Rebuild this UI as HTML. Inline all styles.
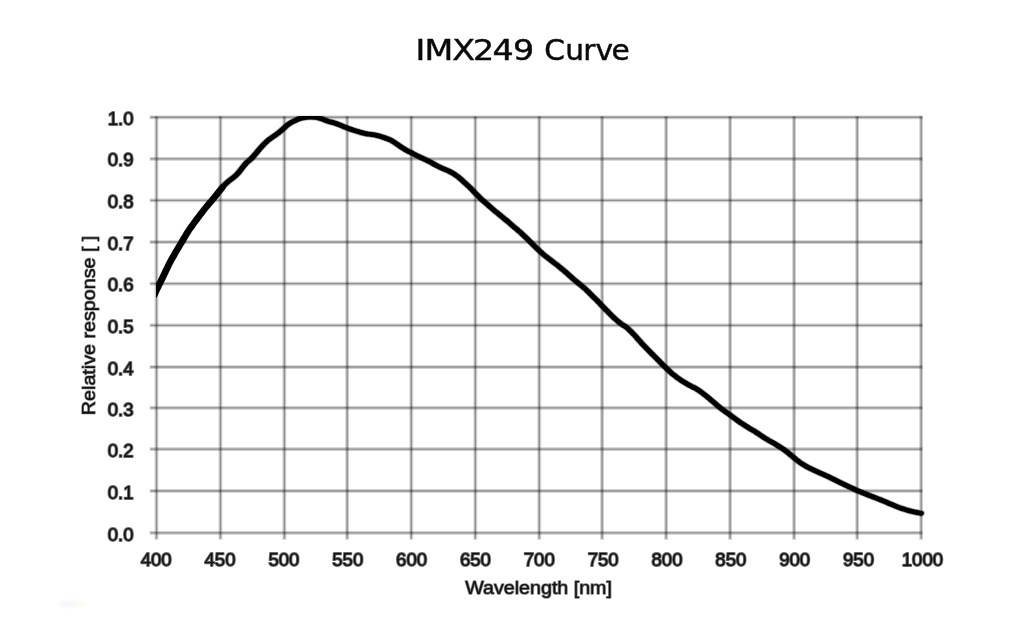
<!DOCTYPE html>
<html lang="en">
<head>
<meta charset="utf-8">
<title>IMX249 Curve</title>
<style>
html,body{margin:0;padding:0;background:#fff;}
body{width:1024px;height:638px;overflow:hidden;position:relative;}
svg{display:block;position:absolute;left:0;top:0;}
.title{font-family:"DejaVu Sans","Liberation Sans",sans-serif;font-size:28.5px;fill:#0a0a0a;stroke:#0a0a0a;stroke-width:0.45px;}
.tick{font-family:"Liberation Sans",sans-serif;font-size:18.60px;fill:#111111;stroke:#111111;stroke-width:1.90px;stroke-opacity:0.62;paint-order:stroke;stroke-linejoin:round;}
.axt{font-family:"Liberation Sans",sans-serif;font-size:18.4px;fill:#111111;stroke:#111111;stroke-width:1.50px;stroke-opacity:0.55;paint-order:stroke;stroke-linejoin:round;}
</style>
</head>
<body>
<svg width="1024" height="638" viewBox="0 0 1024 638">
<defs>
<filter id="smudge" x="-50%" y="-50%" width="200%" height="200%"><feGaussianBlur stdDeviation="2"/></filter>
</defs>
<rect x="0" y="0" width="1024" height="638" fill="#ffffff"/>
<text class="title" transform="scale(1.170 1)" x="355.05 362.79 386.47 404.36 420.91 438.37" y="59.8">IMX249</text>
<text class="title" transform="scale(1.040 1)" x="523.32 543.45 560.76 572.53 587.96" y="59.8">Curve</text>
<g stroke="#000" stroke-opacity="0.190" stroke-width="3.80" fill="none" stroke-linecap="butt">
<line x1="149.70" y1="117.30" x2="922.60" y2="117.30"/>
<line x1="149.70" y1="158.90" x2="922.60" y2="158.90"/>
<line x1="149.70" y1="200.40" x2="922.60" y2="200.40"/>
<line x1="149.70" y1="242.05" x2="922.60" y2="242.05"/>
<line x1="149.70" y1="283.65" x2="922.60" y2="283.65"/>
<line x1="149.70" y1="325.40" x2="922.60" y2="325.40"/>
<line x1="149.70" y1="367.05" x2="922.60" y2="367.05"/>
<line x1="149.70" y1="407.85" x2="922.60" y2="407.85"/>
<line x1="149.70" y1="449.10" x2="922.60" y2="449.10"/>
<line x1="149.70" y1="490.95" x2="922.60" y2="490.95"/>
<line x1="149.70" y1="532.85" x2="922.60" y2="532.85"/>
<line x1="156.50" y1="115.90" x2="156.50" y2="539.65"/>
<line x1="220.45" y1="115.90" x2="220.45" y2="539.65"/>
<line x1="284.40" y1="115.90" x2="284.40" y2="539.65"/>
<line x1="347.20" y1="115.90" x2="347.20" y2="539.65"/>
<line x1="411.30" y1="115.90" x2="411.30" y2="539.65"/>
<line x1="475.35" y1="115.90" x2="475.35" y2="539.65"/>
<line x1="539.25" y1="115.90" x2="539.25" y2="539.65"/>
<line x1="602.10" y1="115.90" x2="602.10" y2="539.65"/>
<line x1="666.15" y1="115.90" x2="666.15" y2="539.65"/>
<line x1="730.10" y1="115.90" x2="730.10" y2="539.65"/>
<line x1="794.10" y1="115.90" x2="794.10" y2="539.65"/>
<line x1="857.20" y1="115.90" x2="857.20" y2="539.65"/>
<line x1="921.15" y1="115.90" x2="921.15" y2="539.65"/>
</g>
<g stroke="#000" stroke-opacity="0.300" stroke-width="1.40" fill="none" stroke-linecap="butt">
<line x1="150.50" y1="117.30" x2="921.80" y2="117.30"/>
<line x1="150.50" y1="158.90" x2="921.80" y2="158.90"/>
<line x1="150.50" y1="200.40" x2="921.80" y2="200.40"/>
<line x1="150.50" y1="242.05" x2="921.80" y2="242.05"/>
<line x1="150.50" y1="283.65" x2="921.80" y2="283.65"/>
<line x1="150.50" y1="325.40" x2="921.80" y2="325.40"/>
<line x1="150.50" y1="367.05" x2="921.80" y2="367.05"/>
<line x1="150.50" y1="407.85" x2="921.80" y2="407.85"/>
<line x1="150.50" y1="449.10" x2="921.80" y2="449.10"/>
<line x1="150.50" y1="490.95" x2="921.80" y2="490.95"/>
<line x1="150.50" y1="532.85" x2="921.80" y2="532.85"/>
<line x1="156.50" y1="116.70" x2="156.50" y2="538.85"/>
<line x1="220.45" y1="116.70" x2="220.45" y2="538.85"/>
<line x1="284.40" y1="116.70" x2="284.40" y2="538.85"/>
<line x1="347.20" y1="116.70" x2="347.20" y2="538.85"/>
<line x1="411.30" y1="116.70" x2="411.30" y2="538.85"/>
<line x1="475.35" y1="116.70" x2="475.35" y2="538.85"/>
<line x1="539.25" y1="116.70" x2="539.25" y2="538.85"/>
<line x1="602.10" y1="116.70" x2="602.10" y2="538.85"/>
<line x1="666.15" y1="116.70" x2="666.15" y2="538.85"/>
<line x1="730.10" y1="116.70" x2="730.10" y2="538.85"/>
<line x1="794.10" y1="116.70" x2="794.10" y2="538.85"/>
<line x1="857.20" y1="116.70" x2="857.20" y2="538.85"/>
<line x1="921.15" y1="116.70" x2="921.15" y2="538.85"/>
</g>
<clipPath id="plotclip"><rect x="155.9" y="116.1" width="780" height="430"/></clipPath>
<g clip-path="url(#plotclip)" fill="none" stroke="#000" stroke-linecap="round" stroke-linejoin="round">
<path transform="scale(1.100 1)" d="M140.2 295.0C140.5 294.3 141.4 292.1 142.0 290.7C142.6 289.3 143.2 288.0 143.8 286.6C144.4 285.2 145.0 283.9 145.6 282.5C146.2 281.1 146.9 279.8 147.5 278.4C148.1 277.0 148.7 275.6 149.3 274.2C149.9 272.8 150.5 271.4 151.1 270.0C151.7 268.6 152.3 267.2 152.9 265.9C153.5 264.6 154.1 263.2 154.7 262.0C155.4 260.7 156.0 259.4 156.6 258.2C157.2 257.0 157.8 255.8 158.4 254.7C159.0 253.5 159.6 252.4 160.2 251.3C160.8 250.2 161.4 249.1 162.0 248.0C162.6 246.8 163.2 245.7 163.8 244.6C164.5 243.5 165.1 242.3 165.7 241.2C166.3 240.1 166.9 238.9 167.5 237.8C168.1 236.7 168.7 235.5 169.3 234.5C169.9 233.4 170.5 232.3 171.1 231.3C171.7 230.2 172.3 229.3 172.9 228.3C173.6 227.3 174.2 226.4 174.8 225.5C175.4 224.5 176.0 223.6 176.6 222.7C177.2 221.8 177.8 220.9 178.4 220.0C179.0 219.1 179.6 218.3 180.2 217.4C180.8 216.5 181.4 215.6 182.0 214.7C182.7 213.8 183.3 212.9 183.9 212.0C184.5 211.2 185.1 210.3 185.7 209.5C186.3 208.6 186.9 207.8 187.5 207.0C188.1 206.2 188.7 205.4 189.3 204.6C189.9 203.8 190.5 203.0 191.2 202.2C191.8 201.4 192.4 200.7 193.0 199.9C193.6 199.1 194.2 198.3 194.8 197.5C195.4 196.7 196.0 195.9 196.6 195.1C197.2 194.2 197.8 193.4 198.4 192.5C199.0 191.7 199.6 190.8 200.3 190.0C200.9 189.1 201.5 188.3 202.1 187.5C202.7 186.7 203.3 185.9 203.9 185.2C204.5 184.5 205.1 183.8 205.7 183.2C206.3 182.6 206.9 182.0 207.5 181.4C208.1 180.9 208.7 180.4 209.4 179.8C210.0 179.3 210.6 178.8 211.2 178.3C211.8 177.8 212.4 177.3 213.0 176.8C213.6 176.2 214.2 175.6 214.8 175.0C215.4 174.3 216.0 173.6 216.6 172.9C217.2 172.1 217.8 171.2 218.5 170.4C219.1 169.5 219.7 168.6 220.3 167.7C220.9 166.9 221.5 166.0 222.1 165.2C222.7 164.4 223.3 163.7 223.9 163.0C224.5 162.3 225.1 161.8 225.7 161.2C226.3 160.6 227.0 160.1 227.6 159.4C228.2 158.8 228.8 158.2 229.4 157.5C230.0 156.8 230.6 156.0 231.2 155.2C231.8 154.5 232.4 153.7 233.0 152.9C233.6 152.1 234.2 151.3 234.8 150.5C235.4 149.7 236.1 148.9 236.7 148.1C237.3 147.4 237.9 146.6 238.5 145.9C239.1 145.2 239.7 144.5 240.3 143.8C240.9 143.2 241.5 142.5 242.1 141.9C242.7 141.3 243.3 140.7 243.9 140.2C244.5 139.6 245.2 139.1 245.8 138.6C246.4 138.1 247.0 137.7 247.6 137.2C248.2 136.7 248.8 136.3 249.4 135.8C250.0 135.4 250.6 134.9 251.2 134.4C251.8 133.9 252.4 133.4 253.0 132.9C253.6 132.4 254.3 131.9 254.9 131.3C255.5 130.7 256.1 130.1 256.7 129.5C257.3 128.9 257.9 128.3 258.5 127.7C259.1 127.1 259.7 126.5 260.3 125.9C260.9 125.4 261.5 124.8 262.1 124.3C262.7 123.9 263.4 123.4 264.0 123.0C264.6 122.6 265.2 122.3 265.8 121.9C266.4 121.6 267.0 121.2 267.6 120.9C268.2 120.6 268.8 120.3 269.4 120.0C270.0 119.7 270.6 119.4 271.2 119.1C271.9 118.9 272.5 118.6 273.1 118.4C273.7 118.2 274.3 118.0 274.9 117.9C275.5 117.7 276.1 117.6 276.7 117.5C277.3 117.4 277.9 117.3 278.5 117.2C279.1 117.2 279.7 117.2 280.3 117.1C281.0 117.1 281.6 117.1 282.2 117.1C282.8 117.1 283.4 117.1 284.0 117.1C284.6 117.1 285.2 117.1 285.8 117.2C286.4 117.2 287.0 117.3 287.6 117.4C288.2 117.5 288.8 117.6 289.4 117.8C290.1 118.0 290.7 118.2 291.3 118.4C291.9 118.6 292.5 118.9 293.1 119.1C293.7 119.4 294.3 119.7 294.9 119.9C295.5 120.2 296.1 120.5 296.7 120.7C297.3 120.9 297.9 121.2 298.5 121.4C299.2 121.6 299.8 121.8 300.4 121.9C301.0 122.1 301.6 122.3 302.2 122.4C302.8 122.6 303.4 122.8 304.0 123.0C304.6 123.2 305.2 123.4 305.8 123.6C306.4 123.9 307.0 124.1 307.7 124.4C308.3 124.7 308.9 125.0 309.5 125.2C310.1 125.5 310.7 125.8 311.3 126.1C311.9 126.3 312.5 126.6 313.1 126.9C313.7 127.2 314.3 127.4 314.9 127.7C315.5 127.9 316.1 128.2 316.8 128.4C317.4 128.7 318.0 128.9 318.6 129.1C319.2 129.4 319.8 129.6 320.4 129.8C321.0 130.1 321.6 130.3 322.2 130.5C322.8 130.7 323.4 130.9 324.0 131.1C324.6 131.4 325.2 131.5 325.9 131.7C326.5 131.9 327.1 132.1 327.7 132.3C328.3 132.5 328.9 132.6 329.5 132.8C330.1 133.0 330.7 133.2 331.3 133.4C331.9 133.5 332.5 133.7 333.1 133.8C333.7 133.9 334.3 134.0 335.0 134.1C335.6 134.2 336.2 134.3 336.8 134.4C337.4 134.5 338.0 134.5 338.6 134.6C339.2 134.7 339.8 134.8 340.4 134.9C341.0 135.0 341.6 135.1 342.2 135.3C342.8 135.5 343.5 135.6 344.1 135.8C344.7 136.0 345.3 136.2 345.9 136.4C346.5 136.6 347.1 136.9 347.7 137.1C348.3 137.3 348.9 137.5 349.5 137.7C350.1 138.0 350.7 138.2 351.3 138.4C351.9 138.7 352.6 138.9 353.2 139.2C353.8 139.5 354.4 139.8 355.0 140.1C355.6 140.4 356.2 140.8 356.8 141.2C357.4 141.5 358.0 142.0 358.6 142.4C359.2 142.8 359.8 143.3 360.4 143.8C361.0 144.3 361.7 144.8 362.3 145.2C362.9 145.7 363.5 146.2 364.1 146.6C364.7 147.0 365.3 147.5 365.9 147.9C366.5 148.3 367.1 148.7 367.7 149.1C368.3 149.5 368.9 149.9 369.5 150.3C370.1 150.7 370.8 151.0 371.4 151.4C372.0 151.7 372.6 152.1 373.2 152.4C373.8 152.8 374.4 153.1 375.0 153.4C375.6 153.8 376.2 154.1 376.8 154.5C377.4 154.8 378.0 155.1 378.6 155.5C379.3 155.8 379.9 156.1 380.5 156.4C381.1 156.8 381.7 157.1 382.3 157.4C382.9 157.7 383.5 158.0 384.1 158.3C384.7 158.6 385.3 158.9 385.9 159.2C386.5 159.5 387.1 159.9 387.7 160.2C388.4 160.5 389.0 160.8 389.6 161.2C390.2 161.5 390.8 161.9 391.4 162.2C392.0 162.6 392.6 163.0 393.2 163.3C393.8 163.7 394.4 164.1 395.0 164.4C395.6 164.8 396.2 165.2 396.8 165.5C397.5 165.9 398.1 166.2 398.7 166.6C399.3 166.9 399.9 167.2 400.5 167.5C401.1 167.8 401.7 168.1 402.3 168.4C402.9 168.7 403.5 168.9 404.1 169.2C404.7 169.5 405.3 169.8 405.9 170.1C406.6 170.4 407.2 170.7 407.8 171.0C408.4 171.3 409.0 171.6 409.6 172.0C410.2 172.3 410.8 172.7 411.4 173.1C412.0 173.4 412.6 173.8 413.2 174.3C413.8 174.7 414.4 175.2 415.0 175.7C415.7 176.2 416.3 176.7 416.9 177.2C417.5 177.8 418.1 178.3 418.7 178.9C419.3 179.5 419.9 180.1 420.5 180.7C421.1 181.3 421.7 181.9 422.3 182.6C422.9 183.2 423.5 183.8 424.2 184.4C424.8 185.1 425.4 185.7 426.0 186.3C426.6 186.9 427.2 187.6 427.8 188.2C428.4 188.9 429.0 189.6 429.6 190.2C430.2 190.9 430.8 191.6 431.4 192.3C432.0 193.0 432.6 193.7 433.3 194.4C433.9 195.1 434.5 195.8 435.1 196.4C435.7 197.1 436.3 197.8 436.9 198.4C437.5 199.0 438.1 199.6 438.7 200.3C439.3 200.9 439.9 201.4 440.5 202.0C441.1 202.6 441.7 203.2 442.4 203.8C443.0 204.4 443.6 205.0 444.2 205.6C444.8 206.2 445.4 206.7 446.0 207.3C446.6 207.9 447.2 208.5 447.8 209.0C448.4 209.6 449.0 210.2 449.6 210.7C450.2 211.3 450.8 211.8 451.5 212.4C452.1 212.9 452.7 213.5 453.3 214.0C453.9 214.6 454.5 215.1 455.1 215.7C455.7 216.2 456.3 216.8 456.9 217.3C457.5 217.9 458.1 218.4 458.7 218.9C459.3 219.5 460.0 220.0 460.6 220.6C461.2 221.2 461.8 221.7 462.4 222.3C463.0 222.9 463.6 223.5 464.2 224.0C464.8 224.6 465.4 225.2 466.0 225.8C466.6 226.3 467.2 226.9 467.8 227.5C468.4 228.0 469.1 228.6 469.7 229.1C470.3 229.7 470.9 230.3 471.5 230.9C472.1 231.4 472.7 232.0 473.3 232.6C473.9 233.2 474.5 233.8 475.1 234.5C475.7 235.1 476.3 235.7 476.9 236.3C477.5 237.0 478.2 237.6 478.8 238.3C479.4 238.9 480.0 239.6 480.6 240.3C481.2 240.9 481.8 241.6 482.4 242.3C483.0 242.9 483.6 243.6 484.2 244.3C484.8 244.9 485.4 245.6 486.0 246.2C486.6 246.9 487.3 247.5 487.9 248.2C488.5 248.8 489.1 249.4 489.7 250.1C490.3 250.7 490.9 251.3 491.5 251.9C492.1 252.6 492.7 253.2 493.3 253.7C493.9 254.3 494.5 254.9 495.1 255.4C495.8 256.0 496.4 256.5 497.0 257.0C497.6 257.6 498.2 258.1 498.8 258.6C499.4 259.1 500.0 259.6 500.6 260.1C501.2 260.7 501.8 261.2 502.4 261.7C503.0 262.2 503.6 262.7 504.2 263.2C504.9 263.7 505.5 264.2 506.1 264.7C506.7 265.2 507.3 265.8 507.9 266.3C508.5 266.8 509.1 267.4 509.7 267.9C510.3 268.5 510.9 269.0 511.5 269.6C512.1 270.1 512.7 270.7 513.3 271.3C514.0 271.9 514.6 272.4 515.2 273.0C515.8 273.6 516.4 274.2 517.0 274.8C517.6 275.4 518.2 276.0 518.8 276.6C519.4 277.2 520.0 277.8 520.6 278.4C521.2 278.9 521.8 279.5 522.4 280.1C523.1 280.7 523.7 281.3 524.3 281.8C524.9 282.4 525.5 282.9 526.1 283.5C526.7 284.0 527.3 284.5 527.9 285.1C528.5 285.6 529.1 286.1 529.7 286.7C530.3 287.3 530.9 287.8 531.6 288.4C532.2 289.0 532.8 289.7 533.4 290.3C534.0 291.0 534.6 291.6 535.2 292.3C535.8 292.9 536.4 293.6 537.0 294.3C537.6 294.9 538.2 295.6 538.8 296.3C539.4 296.9 540.0 297.6 540.7 298.3C541.3 298.9 541.9 299.6 542.5 300.2C543.1 300.9 543.7 301.6 544.3 302.3C544.9 302.9 545.5 303.6 546.1 304.3C546.7 305.0 547.3 305.7 547.9 306.4C548.5 307.1 549.1 307.8 549.8 308.5C550.4 309.2 551.0 309.9 551.6 310.6C552.2 311.2 552.8 311.9 553.4 312.6C554.0 313.3 554.6 313.9 555.2 314.6C555.8 315.3 556.4 315.9 557.0 316.6C557.6 317.2 558.2 317.9 558.9 318.5C559.5 319.1 560.1 319.8 560.7 320.3C561.3 320.9 561.9 321.5 562.5 322.0C563.1 322.5 563.7 323.0 564.3 323.5C564.9 323.9 565.5 324.4 566.1 324.9C566.7 325.3 567.3 325.8 568.0 326.2C568.6 326.7 569.2 327.2 569.8 327.7C570.4 328.2 571.0 328.8 571.6 329.4C572.2 330.0 572.8 330.6 573.4 331.3C574.0 331.9 574.6 332.6 575.2 333.3C575.8 334.0 576.5 334.7 577.1 335.4C577.7 336.2 578.3 336.9 578.9 337.7C579.5 338.5 580.1 339.3 580.7 340.0C581.3 340.8 581.9 341.5 582.5 342.2C583.1 343.0 583.7 343.7 584.3 344.4C584.9 345.1 585.6 345.8 586.2 346.5C586.8 347.2 587.4 347.9 588.0 348.6C588.6 349.3 589.2 349.9 589.8 350.6C590.4 351.3 591.0 352.0 591.6 352.7C592.2 353.4 592.8 354.0 593.4 354.7C594.0 355.4 594.7 356.0 595.3 356.7C595.9 357.3 596.5 358.0 597.1 358.7C597.7 359.4 598.3 360.0 598.9 360.7C599.5 361.4 600.1 362.1 600.7 362.8C601.3 363.4 601.9 364.1 602.5 364.8C603.1 365.4 603.8 366.1 604.4 366.8C605.0 367.4 605.6 368.1 606.2 368.7C606.8 369.4 607.4 370.0 608.0 370.6C608.6 371.2 609.2 371.9 609.8 372.4C610.4 373.0 611.0 373.6 611.6 374.2C612.3 374.7 612.9 375.2 613.5 375.7C614.1 376.3 614.7 376.8 615.3 377.3C615.9 377.7 616.5 378.2 617.1 378.7C617.7 379.2 618.3 379.6 618.9 380.1C619.5 380.5 620.1 381.0 620.7 381.4C621.4 381.8 622.0 382.2 622.6 382.6C623.2 383.0 623.8 383.4 624.4 383.8C625.0 384.2 625.6 384.6 626.2 385.0C626.8 385.3 627.4 385.7 628.0 386.0C628.6 386.4 629.2 386.7 629.8 387.1C630.5 387.4 631.1 387.7 631.7 388.1C632.3 388.4 632.9 388.8 633.5 389.2C634.1 389.6 634.7 390.0 635.3 390.4C635.9 390.9 636.5 391.4 637.1 391.8C637.7 392.3 638.3 392.8 638.9 393.3C639.6 393.9 640.2 394.4 640.8 394.9C641.4 395.4 642.0 395.9 642.6 396.5C643.2 397.0 643.8 397.6 644.4 398.1C645.0 398.7 645.6 399.3 646.2 399.9C646.8 400.4 647.4 401.0 648.1 401.6C648.7 402.2 649.3 402.8 649.9 403.3C650.5 403.9 651.1 404.5 651.7 405.0C652.3 405.6 652.9 406.2 653.5 406.7C654.1 407.2 654.7 407.8 655.3 408.3C655.9 408.8 656.5 409.3 657.2 409.8C657.8 410.3 658.4 410.8 659.0 411.3C659.6 411.7 660.2 412.2 660.8 412.7C661.4 413.2 662.0 413.6 662.6 414.1C663.2 414.6 663.8 415.1 664.4 415.6C665.0 416.1 665.6 416.6 666.3 417.1C666.9 417.6 667.5 418.1 668.1 418.6C668.7 419.1 669.3 419.6 669.9 420.0C670.5 420.5 671.1 421.0 671.7 421.5C672.3 421.9 672.9 422.4 673.5 422.8C674.1 423.3 674.7 423.7 675.4 424.1C676.0 424.6 676.6 425.0 677.2 425.4C677.8 425.9 678.4 426.3 679.0 426.7C679.6 427.1 680.2 427.5 680.8 427.9C681.4 428.4 682.0 428.8 682.6 429.2C683.2 429.6 683.9 429.9 684.5 430.3C685.1 430.7 685.7 431.1 686.3 431.5C686.9 431.9 687.5 432.4 688.1 432.8C688.7 433.2 689.3 433.7 689.9 434.1C690.5 434.6 691.1 435.0 691.7 435.5C692.3 435.9 693.0 436.4 693.6 436.8C694.2 437.3 694.8 437.7 695.4 438.1C696.0 438.6 696.6 439.0 697.2 439.3C697.8 439.7 698.4 440.1 699.0 440.5C699.6 440.9 700.2 441.2 700.8 441.6C701.4 442.0 702.1 442.4 702.7 442.8C703.3 443.1 703.9 443.5 704.5 443.9C705.1 444.3 705.7 444.7 706.3 445.1C706.9 445.5 707.5 445.9 708.1 446.3C708.7 446.7 709.3 447.2 709.9 447.6C710.5 448.1 711.2 448.5 711.8 449.0C712.4 449.5 713.0 449.9 713.6 450.4C714.2 450.9 714.8 451.4 715.4 451.9C716.0 452.4 716.6 453.0 717.2 453.5C717.8 454.1 718.4 454.6 719.0 455.2C719.6 455.7 720.3 456.3 720.9 456.9C721.5 457.4 722.1 458.0 722.7 458.6C723.3 459.1 723.9 459.6 724.5 460.2C725.1 460.7 725.7 461.2 726.3 461.7C726.9 462.2 727.5 462.6 728.1 463.1C728.8 463.5 729.4 464.0 730.0 464.4C730.6 464.8 731.2 465.2 731.8 465.6C732.4 466.0 733.0 466.4 733.6 466.8C734.2 467.1 734.8 467.5 735.4 467.8C736.0 468.2 736.6 468.5 737.2 468.8C737.9 469.1 738.5 469.5 739.1 469.8C739.7 470.1 740.3 470.4 740.9 470.7C741.5 471.0 742.1 471.3 742.7 471.6C743.3 471.9 743.9 472.2 744.5 472.5C745.1 472.8 745.7 473.1 746.3 473.4C747.0 473.7 747.6 474.0 748.2 474.3C748.8 474.6 749.4 474.9 750.0 475.2C750.6 475.5 751.2 475.8 751.8 476.1C752.4 476.4 753.0 476.7 753.6 477.0C754.2 477.4 754.8 477.7 755.4 478.0C756.1 478.3 756.7 478.7 757.3 479.0C757.9 479.3 758.5 479.7 759.1 480.0C759.7 480.3 760.3 480.7 760.9 481.0C761.5 481.3 762.1 481.7 762.7 482.0C763.3 482.3 763.9 482.7 764.6 483.0C765.2 483.3 765.8 483.6 766.4 483.9C767.0 484.3 767.6 484.6 768.2 484.9C768.8 485.2 769.4 485.5 770.0 485.8C770.6 486.1 771.2 486.4 771.8 486.8C772.4 487.1 773.0 487.4 773.7 487.7C774.3 488.0 774.9 488.3 775.5 488.6C776.1 489.0 776.7 489.3 777.3 489.6C777.9 489.9 778.5 490.2 779.1 490.5C779.7 490.8 780.3 491.0 780.9 491.3C781.5 491.6 782.1 491.9 782.8 492.2C783.4 492.4 784.0 492.7 784.6 493.0C785.2 493.2 785.8 493.5 786.4 493.7C787.0 494.0 787.6 494.2 788.2 494.5C788.8 494.8 789.4 495.0 790.0 495.3C790.6 495.5 791.2 495.8 791.9 496.1C792.5 496.3 793.1 496.6 793.7 496.9C794.3 497.1 794.9 497.4 795.5 497.7C796.1 497.9 796.7 498.2 797.3 498.4C797.9 498.7 798.5 499.0 799.1 499.2C799.7 499.5 800.4 499.7 801.0 500.0C801.6 500.3 802.2 500.5 802.8 500.8C803.4 501.1 804.0 501.3 804.6 501.6C805.2 501.9 805.8 502.2 806.4 502.5C807.0 502.8 807.6 503.1 808.2 503.4C808.8 503.7 809.5 503.9 810.1 504.2C810.7 504.5 811.3 504.8 811.9 505.1C812.5 505.4 813.1 505.7 813.7 505.9C814.3 506.2 814.9 506.5 815.5 506.7C816.1 507.0 816.7 507.3 817.3 507.5C817.9 507.8 818.6 508.0 819.2 508.2C819.8 508.5 820.4 508.7 821.0 508.9C821.6 509.1 822.2 509.3 822.8 509.5C823.4 509.7 824.0 509.9 824.6 510.1C825.2 510.3 825.8 510.5 826.4 510.7C827.0 510.8 827.7 511.0 828.3 511.2C828.9 511.3 829.5 511.5 830.1 511.6C830.7 511.8 831.3 511.9 831.9 512.1C832.5 512.2 833.1 512.4 833.7 512.5C834.3 512.6 834.9 512.8 835.5 512.9C836.2 513.0 837.1 513.2 837.4 513.3" stroke-width="6.50" stroke-opacity="0.35"/>
<path transform="scale(1.100 1)" d="M140.2 295.0C140.5 294.3 141.4 292.1 142.0 290.7C142.6 289.3 143.2 288.0 143.8 286.6C144.4 285.2 145.0 283.9 145.6 282.5C146.2 281.1 146.9 279.8 147.5 278.4C148.1 277.0 148.7 275.6 149.3 274.2C149.9 272.8 150.5 271.4 151.1 270.0C151.7 268.6 152.3 267.2 152.9 265.9C153.5 264.6 154.1 263.2 154.7 262.0C155.4 260.7 156.0 259.4 156.6 258.2C157.2 257.0 157.8 255.8 158.4 254.7C159.0 253.5 159.6 252.4 160.2 251.3C160.8 250.2 161.4 249.1 162.0 248.0C162.6 246.8 163.2 245.7 163.8 244.6C164.5 243.5 165.1 242.3 165.7 241.2C166.3 240.1 166.9 238.9 167.5 237.8C168.1 236.7 168.7 235.5 169.3 234.5C169.9 233.4 170.5 232.3 171.1 231.3C171.7 230.2 172.3 229.3 172.9 228.3C173.6 227.3 174.2 226.4 174.8 225.5C175.4 224.5 176.0 223.6 176.6 222.7C177.2 221.8 177.8 220.9 178.4 220.0C179.0 219.1 179.6 218.3 180.2 217.4C180.8 216.5 181.4 215.6 182.0 214.7C182.7 213.8 183.3 212.9 183.9 212.0C184.5 211.2 185.1 210.3 185.7 209.5C186.3 208.6 186.9 207.8 187.5 207.0C188.1 206.2 188.7 205.4 189.3 204.6C189.9 203.8 190.5 203.0 191.2 202.2C191.8 201.4 192.4 200.7 193.0 199.9C193.6 199.1 194.2 198.3 194.8 197.5C195.4 196.7 196.0 195.9 196.6 195.1C197.2 194.2 197.8 193.4 198.4 192.5C199.0 191.7 199.6 190.8 200.3 190.0C200.9 189.1 201.5 188.3 202.1 187.5C202.7 186.7 203.3 185.9 203.9 185.2C204.5 184.5 205.1 183.8 205.7 183.2C206.3 182.6 206.9 182.0 207.5 181.4C208.1 180.9 208.7 180.4 209.4 179.8C210.0 179.3 210.6 178.8 211.2 178.3C211.8 177.8 212.4 177.3 213.0 176.8C213.6 176.2 214.2 175.6 214.8 175.0C215.4 174.3 216.0 173.6 216.6 172.9C217.2 172.1 217.8 171.2 218.5 170.4C219.1 169.5 219.7 168.6 220.3 167.7C220.9 166.9 221.5 166.0 222.1 165.2C222.7 164.4 223.3 163.7 223.9 163.0C224.5 162.3 225.1 161.8 225.7 161.2C226.3 160.6 227.0 160.1 227.6 159.4C228.2 158.8 228.8 158.2 229.4 157.5C230.0 156.8 230.6 156.0 231.2 155.2C231.8 154.5 232.4 153.7 233.0 152.9C233.6 152.1 234.2 151.3 234.8 150.5C235.4 149.7 236.1 148.9 236.7 148.1C237.3 147.4 237.9 146.6 238.5 145.9C239.1 145.2 239.7 144.5 240.3 143.8C240.9 143.2 241.5 142.5 242.1 141.9C242.7 141.3 243.3 140.7 243.9 140.2C244.5 139.6 245.2 139.1 245.8 138.6C246.4 138.1 247.0 137.7 247.6 137.2C248.2 136.7 248.8 136.3 249.4 135.8C250.0 135.4 250.6 134.9 251.2 134.4C251.8 133.9 252.4 133.4 253.0 132.9C253.6 132.4 254.3 131.9 254.9 131.3C255.5 130.7 256.1 130.1 256.7 129.5C257.3 128.9 257.9 128.3 258.5 127.7C259.1 127.1 259.7 126.5 260.3 125.9C260.9 125.4 261.5 124.8 262.1 124.3C262.7 123.9 263.4 123.4 264.0 123.0C264.6 122.6 265.2 122.3 265.8 121.9C266.4 121.6 267.0 121.2 267.6 120.9C268.2 120.6 268.8 120.3 269.4 120.0C270.0 119.7 270.6 119.4 271.2 119.1C271.9 118.9 272.5 118.6 273.1 118.4C273.7 118.2 274.3 118.0 274.9 117.9C275.5 117.7 276.1 117.6 276.7 117.5C277.3 117.4 277.9 117.3 278.5 117.2C279.1 117.2 279.7 117.2 280.3 117.1C281.0 117.1 281.6 117.1 282.2 117.1C282.8 117.1 283.4 117.1 284.0 117.1C284.6 117.1 285.2 117.1 285.8 117.2C286.4 117.2 287.0 117.3 287.6 117.4C288.2 117.5 288.8 117.6 289.4 117.8C290.1 118.0 290.7 118.2 291.3 118.4C291.9 118.6 292.5 118.9 293.1 119.1C293.7 119.4 294.3 119.7 294.9 119.9C295.5 120.2 296.1 120.5 296.7 120.7C297.3 120.9 297.9 121.2 298.5 121.4C299.2 121.6 299.8 121.8 300.4 121.9C301.0 122.1 301.6 122.3 302.2 122.4C302.8 122.6 303.4 122.8 304.0 123.0C304.6 123.2 305.2 123.4 305.8 123.6C306.4 123.9 307.0 124.1 307.7 124.4C308.3 124.7 308.9 125.0 309.5 125.2C310.1 125.5 310.7 125.8 311.3 126.1C311.9 126.3 312.5 126.6 313.1 126.9C313.7 127.2 314.3 127.4 314.9 127.7C315.5 127.9 316.1 128.2 316.8 128.4C317.4 128.7 318.0 128.9 318.6 129.1C319.2 129.4 319.8 129.6 320.4 129.8C321.0 130.1 321.6 130.3 322.2 130.5C322.8 130.7 323.4 130.9 324.0 131.1C324.6 131.4 325.2 131.5 325.9 131.7C326.5 131.9 327.1 132.1 327.7 132.3C328.3 132.5 328.9 132.6 329.5 132.8C330.1 133.0 330.7 133.2 331.3 133.4C331.9 133.5 332.5 133.7 333.1 133.8C333.7 133.9 334.3 134.0 335.0 134.1C335.6 134.2 336.2 134.3 336.8 134.4C337.4 134.5 338.0 134.5 338.6 134.6C339.2 134.7 339.8 134.8 340.4 134.9C341.0 135.0 341.6 135.1 342.2 135.3C342.8 135.5 343.5 135.6 344.1 135.8C344.7 136.0 345.3 136.2 345.9 136.4C346.5 136.6 347.1 136.9 347.7 137.1C348.3 137.3 348.9 137.5 349.5 137.7C350.1 138.0 350.7 138.2 351.3 138.4C351.9 138.7 352.6 138.9 353.2 139.2C353.8 139.5 354.4 139.8 355.0 140.1C355.6 140.4 356.2 140.8 356.8 141.2C357.4 141.5 358.0 142.0 358.6 142.4C359.2 142.8 359.8 143.3 360.4 143.8C361.0 144.3 361.7 144.8 362.3 145.2C362.9 145.7 363.5 146.2 364.1 146.6C364.7 147.0 365.3 147.5 365.9 147.9C366.5 148.3 367.1 148.7 367.7 149.1C368.3 149.5 368.9 149.9 369.5 150.3C370.1 150.7 370.8 151.0 371.4 151.4C372.0 151.7 372.6 152.1 373.2 152.4C373.8 152.8 374.4 153.1 375.0 153.4C375.6 153.8 376.2 154.1 376.8 154.5C377.4 154.8 378.0 155.1 378.6 155.5C379.3 155.8 379.9 156.1 380.5 156.4C381.1 156.8 381.7 157.1 382.3 157.4C382.9 157.7 383.5 158.0 384.1 158.3C384.7 158.6 385.3 158.9 385.9 159.2C386.5 159.5 387.1 159.9 387.7 160.2C388.4 160.5 389.0 160.8 389.6 161.2C390.2 161.5 390.8 161.9 391.4 162.2C392.0 162.6 392.6 163.0 393.2 163.3C393.8 163.7 394.4 164.1 395.0 164.4C395.6 164.8 396.2 165.2 396.8 165.5C397.5 165.9 398.1 166.2 398.7 166.6C399.3 166.9 399.9 167.2 400.5 167.5C401.1 167.8 401.7 168.1 402.3 168.4C402.9 168.7 403.5 168.9 404.1 169.2C404.7 169.5 405.3 169.8 405.9 170.1C406.6 170.4 407.2 170.7 407.8 171.0C408.4 171.3 409.0 171.6 409.6 172.0C410.2 172.3 410.8 172.7 411.4 173.1C412.0 173.4 412.6 173.8 413.2 174.3C413.8 174.7 414.4 175.2 415.0 175.7C415.7 176.2 416.3 176.7 416.9 177.2C417.5 177.8 418.1 178.3 418.7 178.9C419.3 179.5 419.9 180.1 420.5 180.7C421.1 181.3 421.7 181.9 422.3 182.6C422.9 183.2 423.5 183.8 424.2 184.4C424.8 185.1 425.4 185.7 426.0 186.3C426.6 186.9 427.2 187.6 427.8 188.2C428.4 188.9 429.0 189.6 429.6 190.2C430.2 190.9 430.8 191.6 431.4 192.3C432.0 193.0 432.6 193.7 433.3 194.4C433.9 195.1 434.5 195.8 435.1 196.4C435.7 197.1 436.3 197.8 436.9 198.4C437.5 199.0 438.1 199.6 438.7 200.3C439.3 200.9 439.9 201.4 440.5 202.0C441.1 202.6 441.7 203.2 442.4 203.8C443.0 204.4 443.6 205.0 444.2 205.6C444.8 206.2 445.4 206.7 446.0 207.3C446.6 207.9 447.2 208.5 447.8 209.0C448.4 209.6 449.0 210.2 449.6 210.7C450.2 211.3 450.8 211.8 451.5 212.4C452.1 212.9 452.7 213.5 453.3 214.0C453.9 214.6 454.5 215.1 455.1 215.7C455.7 216.2 456.3 216.8 456.9 217.3C457.5 217.9 458.1 218.4 458.7 218.9C459.3 219.5 460.0 220.0 460.6 220.6C461.2 221.2 461.8 221.7 462.4 222.3C463.0 222.9 463.6 223.5 464.2 224.0C464.8 224.6 465.4 225.2 466.0 225.8C466.6 226.3 467.2 226.9 467.8 227.5C468.4 228.0 469.1 228.6 469.7 229.1C470.3 229.7 470.9 230.3 471.5 230.9C472.1 231.4 472.7 232.0 473.3 232.6C473.9 233.2 474.5 233.8 475.1 234.5C475.7 235.1 476.3 235.7 476.9 236.3C477.5 237.0 478.2 237.6 478.8 238.3C479.4 238.9 480.0 239.6 480.6 240.3C481.2 240.9 481.8 241.6 482.4 242.3C483.0 242.9 483.6 243.6 484.2 244.3C484.8 244.9 485.4 245.6 486.0 246.2C486.6 246.9 487.3 247.5 487.9 248.2C488.5 248.8 489.1 249.4 489.7 250.1C490.3 250.7 490.9 251.3 491.5 251.9C492.1 252.6 492.7 253.2 493.3 253.7C493.9 254.3 494.5 254.9 495.1 255.4C495.8 256.0 496.4 256.5 497.0 257.0C497.6 257.6 498.2 258.1 498.8 258.6C499.4 259.1 500.0 259.6 500.6 260.1C501.2 260.7 501.8 261.2 502.4 261.7C503.0 262.2 503.6 262.7 504.2 263.2C504.9 263.7 505.5 264.2 506.1 264.7C506.7 265.2 507.3 265.8 507.9 266.3C508.5 266.8 509.1 267.4 509.7 267.9C510.3 268.5 510.9 269.0 511.5 269.6C512.1 270.1 512.7 270.7 513.3 271.3C514.0 271.9 514.6 272.4 515.2 273.0C515.8 273.6 516.4 274.2 517.0 274.8C517.6 275.4 518.2 276.0 518.8 276.6C519.4 277.2 520.0 277.8 520.6 278.4C521.2 278.9 521.8 279.5 522.4 280.1C523.1 280.7 523.7 281.3 524.3 281.8C524.9 282.4 525.5 282.9 526.1 283.5C526.7 284.0 527.3 284.5 527.9 285.1C528.5 285.6 529.1 286.1 529.7 286.7C530.3 287.3 530.9 287.8 531.6 288.4C532.2 289.0 532.8 289.7 533.4 290.3C534.0 291.0 534.6 291.6 535.2 292.3C535.8 292.9 536.4 293.6 537.0 294.3C537.6 294.9 538.2 295.6 538.8 296.3C539.4 296.9 540.0 297.6 540.7 298.3C541.3 298.9 541.9 299.6 542.5 300.2C543.1 300.9 543.7 301.6 544.3 302.3C544.9 302.9 545.5 303.6 546.1 304.3C546.7 305.0 547.3 305.7 547.9 306.4C548.5 307.1 549.1 307.8 549.8 308.5C550.4 309.2 551.0 309.9 551.6 310.6C552.2 311.2 552.8 311.9 553.4 312.6C554.0 313.3 554.6 313.9 555.2 314.6C555.8 315.3 556.4 315.9 557.0 316.6C557.6 317.2 558.2 317.9 558.9 318.5C559.5 319.1 560.1 319.8 560.7 320.3C561.3 320.9 561.9 321.5 562.5 322.0C563.1 322.5 563.7 323.0 564.3 323.5C564.9 323.9 565.5 324.4 566.1 324.9C566.7 325.3 567.3 325.8 568.0 326.2C568.6 326.7 569.2 327.2 569.8 327.7C570.4 328.2 571.0 328.8 571.6 329.4C572.2 330.0 572.8 330.6 573.4 331.3C574.0 331.9 574.6 332.6 575.2 333.3C575.8 334.0 576.5 334.7 577.1 335.4C577.7 336.2 578.3 336.9 578.9 337.7C579.5 338.5 580.1 339.3 580.7 340.0C581.3 340.8 581.9 341.5 582.5 342.2C583.1 343.0 583.7 343.7 584.3 344.4C584.9 345.1 585.6 345.8 586.2 346.5C586.8 347.2 587.4 347.9 588.0 348.6C588.6 349.3 589.2 349.9 589.8 350.6C590.4 351.3 591.0 352.0 591.6 352.7C592.2 353.4 592.8 354.0 593.4 354.7C594.0 355.4 594.7 356.0 595.3 356.7C595.9 357.3 596.5 358.0 597.1 358.7C597.7 359.4 598.3 360.0 598.9 360.7C599.5 361.4 600.1 362.1 600.7 362.8C601.3 363.4 601.9 364.1 602.5 364.8C603.1 365.4 603.8 366.1 604.4 366.8C605.0 367.4 605.6 368.1 606.2 368.7C606.8 369.4 607.4 370.0 608.0 370.6C608.6 371.2 609.2 371.9 609.8 372.4C610.4 373.0 611.0 373.6 611.6 374.2C612.3 374.7 612.9 375.2 613.5 375.7C614.1 376.3 614.7 376.8 615.3 377.3C615.9 377.7 616.5 378.2 617.1 378.7C617.7 379.2 618.3 379.6 618.9 380.1C619.5 380.5 620.1 381.0 620.7 381.4C621.4 381.8 622.0 382.2 622.6 382.6C623.2 383.0 623.8 383.4 624.4 383.8C625.0 384.2 625.6 384.6 626.2 385.0C626.8 385.3 627.4 385.7 628.0 386.0C628.6 386.4 629.2 386.7 629.8 387.1C630.5 387.4 631.1 387.7 631.7 388.1C632.3 388.4 632.9 388.8 633.5 389.2C634.1 389.6 634.7 390.0 635.3 390.4C635.9 390.9 636.5 391.4 637.1 391.8C637.7 392.3 638.3 392.8 638.9 393.3C639.6 393.9 640.2 394.4 640.8 394.9C641.4 395.4 642.0 395.9 642.6 396.5C643.2 397.0 643.8 397.6 644.4 398.1C645.0 398.7 645.6 399.3 646.2 399.9C646.8 400.4 647.4 401.0 648.1 401.6C648.7 402.2 649.3 402.8 649.9 403.3C650.5 403.9 651.1 404.5 651.7 405.0C652.3 405.6 652.9 406.2 653.5 406.7C654.1 407.2 654.7 407.8 655.3 408.3C655.9 408.8 656.5 409.3 657.2 409.8C657.8 410.3 658.4 410.8 659.0 411.3C659.6 411.7 660.2 412.2 660.8 412.7C661.4 413.2 662.0 413.6 662.6 414.1C663.2 414.6 663.8 415.1 664.4 415.6C665.0 416.1 665.6 416.6 666.3 417.1C666.9 417.6 667.5 418.1 668.1 418.6C668.7 419.1 669.3 419.6 669.9 420.0C670.5 420.5 671.1 421.0 671.7 421.5C672.3 421.9 672.9 422.4 673.5 422.8C674.1 423.3 674.7 423.7 675.4 424.1C676.0 424.6 676.6 425.0 677.2 425.4C677.8 425.9 678.4 426.3 679.0 426.7C679.6 427.1 680.2 427.5 680.8 427.9C681.4 428.4 682.0 428.8 682.6 429.2C683.2 429.6 683.9 429.9 684.5 430.3C685.1 430.7 685.7 431.1 686.3 431.5C686.9 431.9 687.5 432.4 688.1 432.8C688.7 433.2 689.3 433.7 689.9 434.1C690.5 434.6 691.1 435.0 691.7 435.5C692.3 435.9 693.0 436.4 693.6 436.8C694.2 437.3 694.8 437.7 695.4 438.1C696.0 438.6 696.6 439.0 697.2 439.3C697.8 439.7 698.4 440.1 699.0 440.5C699.6 440.9 700.2 441.2 700.8 441.6C701.4 442.0 702.1 442.4 702.7 442.8C703.3 443.1 703.9 443.5 704.5 443.9C705.1 444.3 705.7 444.7 706.3 445.1C706.9 445.5 707.5 445.9 708.1 446.3C708.7 446.7 709.3 447.2 709.9 447.6C710.5 448.1 711.2 448.5 711.8 449.0C712.4 449.5 713.0 449.9 713.6 450.4C714.2 450.9 714.8 451.4 715.4 451.9C716.0 452.4 716.6 453.0 717.2 453.5C717.8 454.1 718.4 454.6 719.0 455.2C719.6 455.7 720.3 456.3 720.9 456.9C721.5 457.4 722.1 458.0 722.7 458.6C723.3 459.1 723.9 459.6 724.5 460.2C725.1 460.7 725.7 461.2 726.3 461.7C726.9 462.2 727.5 462.6 728.1 463.1C728.8 463.5 729.4 464.0 730.0 464.4C730.6 464.8 731.2 465.2 731.8 465.6C732.4 466.0 733.0 466.4 733.6 466.8C734.2 467.1 734.8 467.5 735.4 467.8C736.0 468.2 736.6 468.5 737.2 468.8C737.9 469.1 738.5 469.5 739.1 469.8C739.7 470.1 740.3 470.4 740.9 470.7C741.5 471.0 742.1 471.3 742.7 471.6C743.3 471.9 743.9 472.2 744.5 472.5C745.1 472.8 745.7 473.1 746.3 473.4C747.0 473.7 747.6 474.0 748.2 474.3C748.8 474.6 749.4 474.9 750.0 475.2C750.6 475.5 751.2 475.8 751.8 476.1C752.4 476.4 753.0 476.7 753.6 477.0C754.2 477.4 754.8 477.7 755.4 478.0C756.1 478.3 756.7 478.7 757.3 479.0C757.9 479.3 758.5 479.7 759.1 480.0C759.7 480.3 760.3 480.7 760.9 481.0C761.5 481.3 762.1 481.7 762.7 482.0C763.3 482.3 763.9 482.7 764.6 483.0C765.2 483.3 765.8 483.6 766.4 483.9C767.0 484.3 767.6 484.6 768.2 484.9C768.8 485.2 769.4 485.5 770.0 485.8C770.6 486.1 771.2 486.4 771.8 486.8C772.4 487.1 773.0 487.4 773.7 487.7C774.3 488.0 774.9 488.3 775.5 488.6C776.1 489.0 776.7 489.3 777.3 489.6C777.9 489.9 778.5 490.2 779.1 490.5C779.7 490.8 780.3 491.0 780.9 491.3C781.5 491.6 782.1 491.9 782.8 492.2C783.4 492.4 784.0 492.7 784.6 493.0C785.2 493.2 785.8 493.5 786.4 493.7C787.0 494.0 787.6 494.2 788.2 494.5C788.8 494.8 789.4 495.0 790.0 495.3C790.6 495.5 791.2 495.8 791.9 496.1C792.5 496.3 793.1 496.6 793.7 496.9C794.3 497.1 794.9 497.4 795.5 497.7C796.1 497.9 796.7 498.2 797.3 498.4C797.9 498.7 798.5 499.0 799.1 499.2C799.7 499.5 800.4 499.7 801.0 500.0C801.6 500.3 802.2 500.5 802.8 500.8C803.4 501.1 804.0 501.3 804.6 501.6C805.2 501.9 805.8 502.2 806.4 502.5C807.0 502.8 807.6 503.1 808.2 503.4C808.8 503.7 809.5 503.9 810.1 504.2C810.7 504.5 811.3 504.8 811.9 505.1C812.5 505.4 813.1 505.7 813.7 505.9C814.3 506.2 814.9 506.5 815.5 506.7C816.1 507.0 816.7 507.3 817.3 507.5C817.9 507.8 818.6 508.0 819.2 508.2C819.8 508.5 820.4 508.7 821.0 508.9C821.6 509.1 822.2 509.3 822.8 509.5C823.4 509.7 824.0 509.9 824.6 510.1C825.2 510.3 825.8 510.5 826.4 510.7C827.0 510.8 827.7 511.0 828.3 511.2C828.9 511.3 829.5 511.5 830.1 511.6C830.7 511.8 831.3 511.9 831.9 512.1C832.5 512.2 833.1 512.4 833.7 512.5C834.3 512.6 834.9 512.8 835.5 512.9C836.2 513.0 837.1 513.2 837.4 513.3" stroke-width="5.00"/>
<path transform="scale(1.100 1)" d="M140.2 295.0C140.5 294.3 141.4 292.1 142.0 290.7C142.6 289.3 143.2 288.0 143.8 286.6C144.4 285.2 145.0 283.9 145.6 282.5C146.2 281.1 146.9 279.8 147.5 278.4C148.1 277.0 148.7 275.6 149.3 274.2C149.9 272.8 150.5 271.4 151.1 270.0C151.7 268.6 152.3 267.2 152.9 265.9C153.5 264.6 154.1 263.2 154.7 262.0C155.4 260.7 156.0 259.4 156.6 258.2C157.2 257.0 157.8 255.8 158.4 254.7C159.0 253.5 159.6 252.4 160.2 251.3C160.8 250.2 161.4 249.1 162.0 248.0C162.6 246.8 163.2 245.7 163.8 244.6C164.5 243.5 165.1 242.3 165.7 241.2C166.3 240.1 166.9 238.9 167.5 237.8C168.1 236.7 168.7 235.5 169.3 234.5C169.9 233.4 170.5 232.3 171.1 231.3C171.7 230.2 172.3 229.3 172.9 228.3C173.6 227.3 174.2 226.4 174.8 225.5C175.4 224.5 176.0 223.6 176.6 222.7C177.2 221.8 177.8 220.9 178.4 220.0C179.0 219.1 179.6 218.3 180.2 217.4C180.8 216.5 181.4 215.6 182.0 214.7C182.7 213.8 183.3 212.9 183.9 212.0C184.5 211.2 185.1 210.3 185.7 209.5C186.3 208.6 186.9 207.8 187.5 207.0C188.1 206.2 188.7 205.4 189.3 204.6C189.9 203.8 190.5 203.0 191.2 202.2C191.8 201.4 192.4 200.7 193.0 199.9C193.6 199.1 194.2 198.3 194.8 197.5C195.4 196.7 196.0 195.9 196.6 195.1C197.2 194.2 197.8 193.4 198.4 192.5C199.0 191.7 199.6 190.8 200.3 190.0C200.9 189.1 201.8 187.9 202.1 187.5" stroke-width="6.00"/>
</g>
<g class="tick" text-anchor="end">
<text x="133.6" y="124.60">1.0</text>
<text x="133.6" y="166.32">0.9</text>
<text x="133.6" y="207.94">0.8</text>
<text x="133.6" y="249.71">0.7</text>
<text x="133.6" y="291.43">0.6</text>
<text x="133.6" y="333.30">0.5</text>
<text x="133.6" y="375.07">0.4</text>
<text x="133.6" y="415.99">0.3</text>
<text x="133.6" y="457.36">0.2</text>
<text x="133.6" y="499.33">0.1</text>
<text x="133.6" y="541.35">0.0</text>
</g>
<g class="tick" text-anchor="middle">
<text x="156.20" y="565.6">400</text>
<text x="220.05" y="565.6">450</text>
<text x="283.90" y="565.6">500</text>
<text x="347.75" y="565.6">550</text>
<text x="411.60" y="565.6">600</text>
<text x="475.45" y="565.6">650</text>
<text x="539.30" y="565.6">700</text>
<text x="603.15" y="565.6">750</text>
<text x="667.00" y="565.6">800</text>
<text x="730.85" y="565.6">850</text>
<text x="794.70" y="565.6">900</text>
<text x="858.55" y="565.6">950</text>
<text x="922.40" y="565.6">1000</text>
</g>
<g class="axt">
<text x="538.6" y="593.6" text-anchor="middle" textLength="146.6" lengthAdjust="spacingAndGlyphs">Wavelength [nm]</text>
<text transform="translate(95.4 325.4) rotate(-90)" text-anchor="middle" style="stroke-width:1.3px" textLength="179.5" lengthAdjust="spacingAndGlyphs">Relative response [ ]</text>
</g>
<g filter="url(#smudge)"><rect x="60" y="602" width="14" height="4" fill="#f2f2f9"/><rect x="74" y="601" width="12" height="5" fill="#faf9ee"/></g>
</svg>
</body>
</html>
